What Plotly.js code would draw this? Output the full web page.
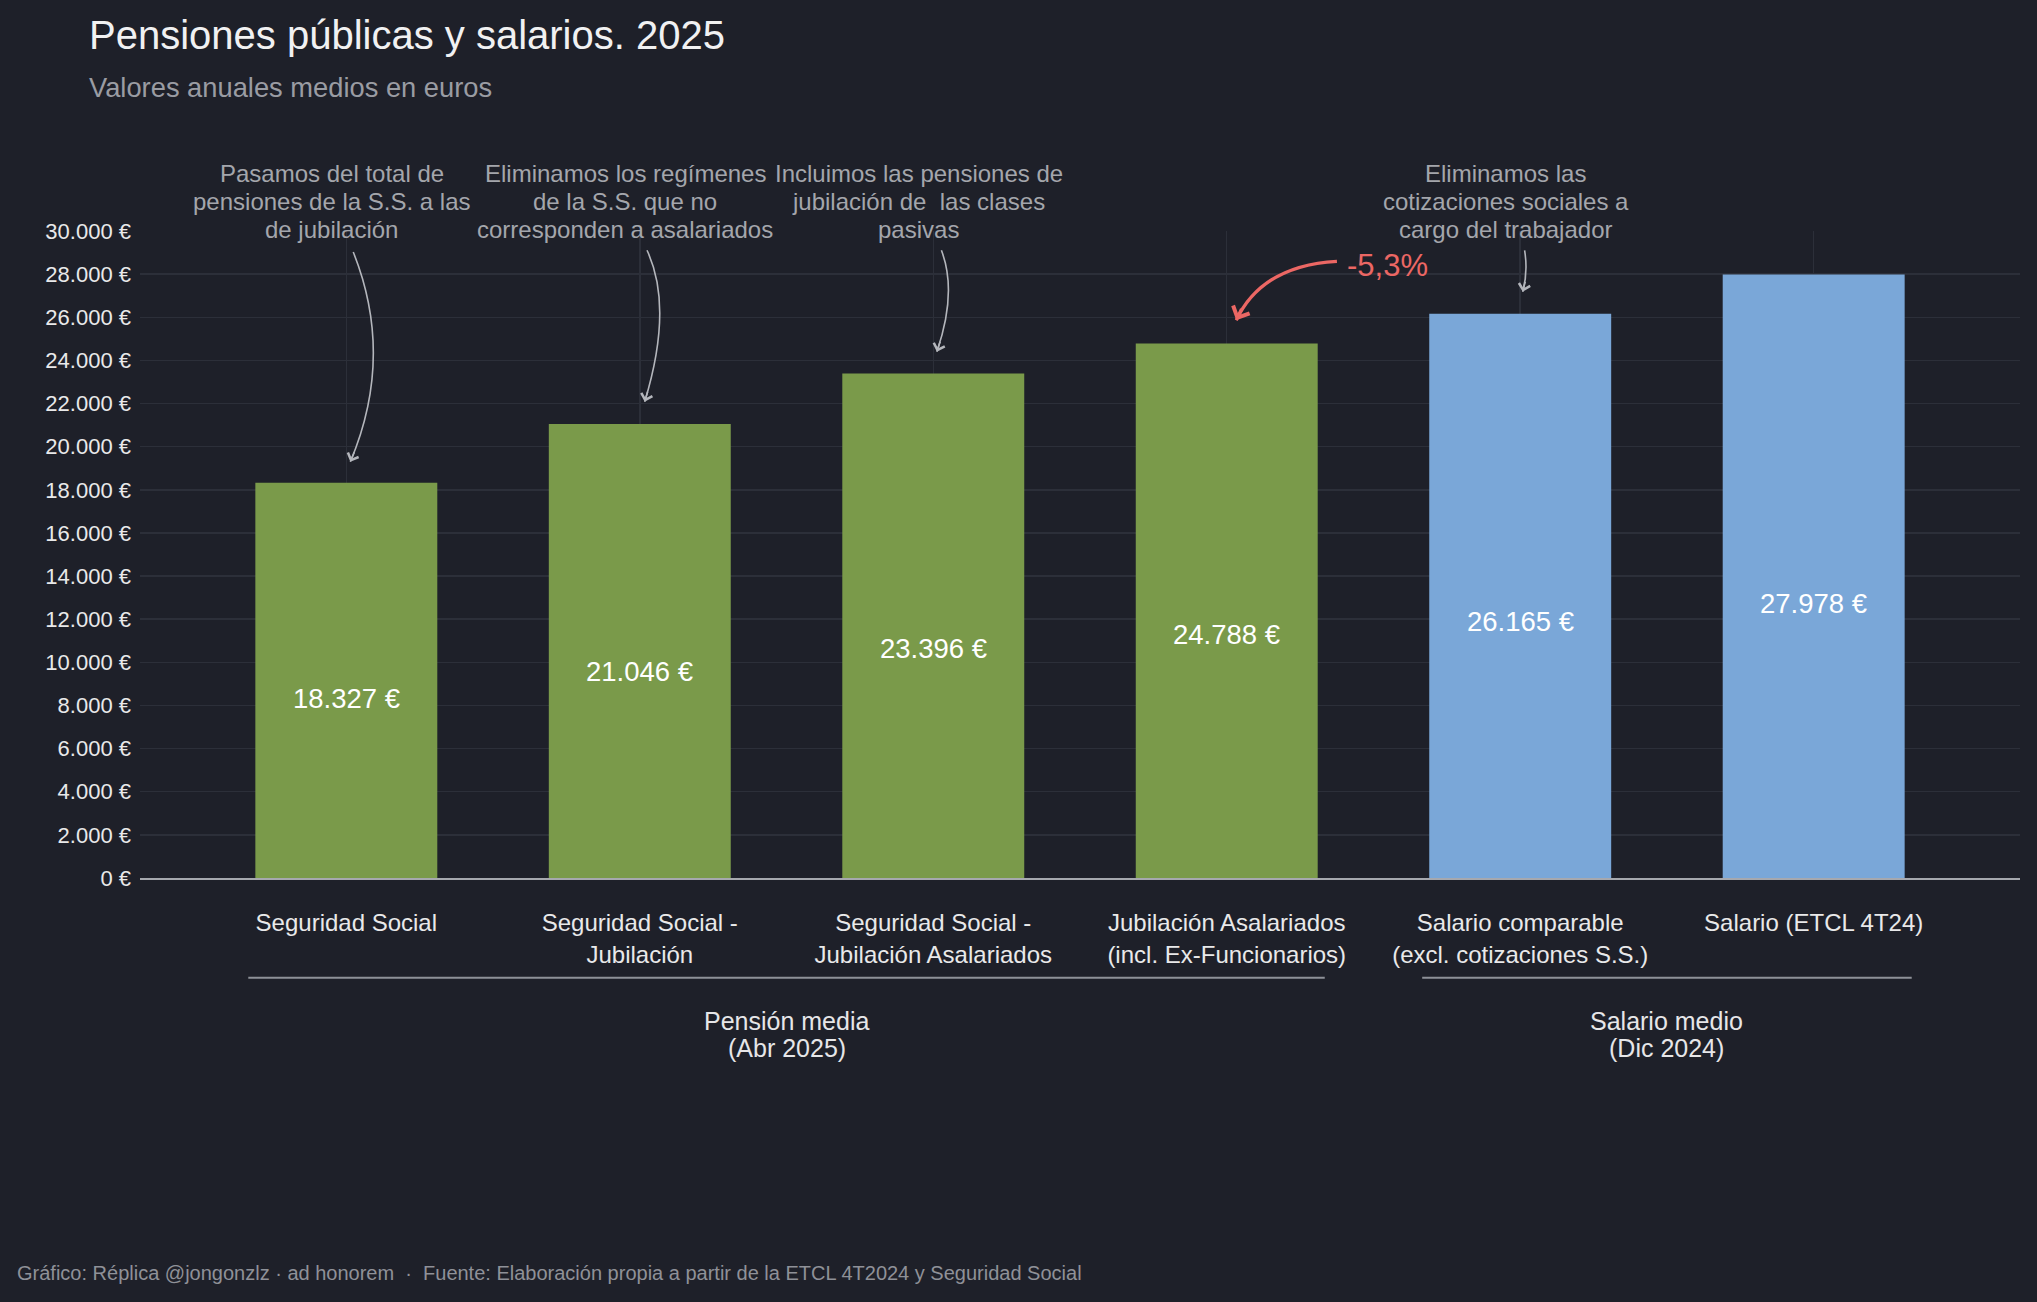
<!DOCTYPE html>
<html>
<head>
<meta charset="utf-8">
<script src="https://cdn.plot.ly/plotly-3.0.1.min.js"></script>
<style>
html,body{margin:0;padding:0;background:#1e2029;}
#chart{width:2037px;height:1302px;}
</style>
</head>
<body>
<div id="chart"></div>
<script>
// ---- data ----
const categories = [
  'Seguridad Social',
  'Seguridad Social -<br>Jubilación',
  'Seguridad Social -<br>Jubilación Asalariados',
  'Jubilación Asalariados<br>(incl. Ex-Funcionarios)',
  'Salario comparable<br>(excl. cotizaciones S.S.)',
  'Salario (ETCL 4T24)'
];
const values = [18327, 21046, 23396, 24788, 26165, 27978];
const groupOf = ['pension', 'pension', 'pension', 'pension', 'salario', 'salario'];
const groupNames = ['pension', 'salario'];
const groupLabels = ['Pensión media<br>(Abr 2025)', 'Salario medio<br>(Dic 2024)'];
const noteTexts = [
  'Pasamos del total de<br>pensiones de la S.S. a las<br>de jubilación',
  'Eliminamos los regímenes<br>de la S.S. que no<br>corresponden a asalariados',
  'Incluimos las pensiones de<br>jubilación de  las clases<br>pasivas',
  'Eliminamos las<br>cotizaciones sociales a<br>cargo del trabajador'
];
const changeLabel = '-5,3%';
const titleText = 'Pensiones públicas y salarios. 2025';
const subtitleText = 'Valores anuales medios en euros';
const footerText = 'Gráfico: Réplica @jongonzlz · ad honorem  ·  Fuente: Elaboración propia a partir de la ETCL 4T2024 y Seguridad Social';

// ---- styles ----
const FONT = 'Liberation Sans, Arial, Helvetica, sans-serif';
const BG = '#1e2029';
const GRID = '#2c2f39';
const groupColors = {pension: '#7a9a4a', salario: '#7aa7d8'};
const NOTE_COLOR = '#a4a6ac';
const ARROW_COLOR = '#b4b6bc';
const RED = '#ec6764';

function fmt(v) {
  return String(v).replace(/\B(?=(\d{3})+(?!\d))/g, '.') + ' €';
}

const trace = {
  type: 'bar',
  x: categories,
  y: values,
  marker: {color: groupOf.map(g => groupColors[g])},
  hovertemplate: '%{y:,.0f} €<extra></extra>'
};

const annotations = [];

// multi-line text helper with controlled line spacing
function addLines(text, base, lineGap) {
  const lines = text.split('<br>');
  const n = lines.length;
  lines.forEach((ln, k) => {
    annotations.push(Object.assign({}, base, {
      text: ln,
      yshift: -(k - (n - 1) / 2) * lineGap,
      showarrow: false
    }));
  });
}

// value labels inside bars
categories.forEach((c, i) => {
  annotations.push({
    x: c, y: values[i] * 0.455, xref: 'x', yref: 'y',
    text: fmt(values[i]), showarrow: false,
    font: {family: FONT, size: 27.5, color: '#ffffff'},
    xanchor: 'center', yanchor: 'middle'
  });
});

// note texts above bars (notes for categories 0,1,2,4)
const noteCats = [0, 1, 2, 4];
noteCats.forEach((ci, k) => {
  addLines(noteTexts[k], {
    x: ci - 0.05, y: 1.046, xref: 'x', yref: 'paper',
    font: {family: FONT, size: 24, color: NOTE_COLOR},
    align: 'center', xanchor: 'center', yanchor: 'middle'
  }, 28);
});

// curved arrow definitions (start, control, end) in category-index / value units
const arrows = [
  {p0: [0.0236, 29027], c: [0.1653, 24200], p1: [0.0137, 19300], ax: 4.6, ay: -11, color: ARROW_COLOR, w: 1.6, size: 1.4},
  {p0: [1.0246, 29106], c: [1.1153, 26477], p1: [1.0167, 22080], ax: 3.4, ay: -11.5, color: ARROW_COLOR, w: 1.6, size: 1.4},
  {p0: [2.0277, 29106], c: [2.0824, 27171], p1: [2.0123, 24400], ax: 3.8, ay: -11.4, color: ARROW_COLOR, w: 1.6, size: 1.4},
  {p0: [4.015, 29106], c: [4.027, 28097], p1: [4.0085, 27180], ax: 2.9, ay: -11.6, color: ARROW_COLOR, w: 1.6, size: 1.4},
  {p0: [3.3755, 28596], c: [3.12, 28400], p1: [3.0324, 25863], ax: 6, ay: -12.7, color: RED, w: 3.2, size: 1.1}
];

const shapes = [];
arrows.forEach(a => {
  shapes.push({
    type: 'path', xref: 'x', yref: 'y',
    path: `M ${a.p0[0]},${a.p0[1]} Q ${a.c[0]},${a.c[1]} ${a.p1[0]},${a.p1[1]}`,
    line: {color: a.color, width: a.w}
  });
  annotations.push({
    x: a.p1[0], y: a.p1[1], xref: 'x', yref: 'y',
    text: '', showarrow: true, ax: a.ax, ay: a.ay,
    arrowhead: 4, arrowsize: a.size, arrowwidth: a.w, arrowcolor: a.color, standoff: 0
  });
});

// -5,3% label
annotations.push({
  x: 3.548, y: 28420, xref: 'x', yref: 'y',
  text: changeLabel, showarrow: false,
  font: {family: FONT, size: 31, color: RED},
  xanchor: 'center', yanchor: 'middle'
});

// group brackets and labels
groupNames.forEach((g, k) => {
  const idx = groupOf.map((gg, i) => gg === g ? i : -1).filter(i => i >= 0);
  const first = Math.min(...idx), last = Math.max(...idx);
  shapes.push({
    type: 'line', xref: 'x', yref: 'paper',
    x0: first - 0.334, x1: last + 0.334, y0: -0.154, y1: -0.154,
    line: {color: '#8e9198', width: 2}
  });
  addLines(groupLabels[k], {
    x: (first + last) / 2, y: -0.2412, xref: 'x', yref: 'paper',
    font: {family: FONT, size: 25, color: '#e6e6e8'},
    align: 'center', xanchor: 'center', yanchor: 'middle'
  }, 27);
});

// title, subtitle, footer
annotations.push({
  x: -0.028, y: 1.3022, xref: 'paper', yref: 'paper',
  text: titleText, showarrow: false,
  font: {family: FONT, size: 40, color: '#f1f1f2'},
  xanchor: 'left', yanchor: 'middle'
});
annotations.push({
  x: -0.028, y: 1.2224, xref: 'paper', yref: 'paper',
  text: subtitleText, showarrow: false,
  font: {family: FONT, size: 27.3, color: '#9a9ca3'},
  xanchor: 'left', yanchor: 'middle'
});
annotations.push({
  x: -0.0665, y: -0.611, xref: 'paper', yref: 'paper',
  text: footerText, showarrow: false,
  font: {family: FONT, size: 20, color: '#8f9198'},
  xanchor: 'left', yanchor: 'middle'
});

const layout = {
  width: 2037, height: 1302,
  paper_bgcolor: BG, plot_bgcolor: BG,
  margin: {l: 140, r: 17, t: 231, b: 424},
  separators: ',.',
  showlegend: false,
  bargap: 0.38,
  font: {family: FONT, color: '#e6e6e8'},
  xaxis: {
    type: 'category',
    range: [-0.703, 5.703],
    showgrid: true, gridcolor: GRID, gridwidth: 1.5,
    showline: true, linecolor: '#a6a8ae', linewidth: 1.6,
    ticks: '', ticklabelstandoff: 23,
    tickfont: {family: FONT, size: 24, color: '#e9e9ea'},
    fixedrange: true
  },
  yaxis: {
    range: [0, 30000], tick0: 0, dtick: 2000,
    tickformat: ',.0f', ticksuffix: ' €',
    showgrid: true, gridcolor: GRID, gridwidth: 1.5,
    zeroline: false, showline: false,
    ticks: '', ticklabelstandoff: 8,
    tickfont: {family: FONT, size: 22, color: '#e9e9ea'},
    fixedrange: true
  },
  shapes: shapes,
  annotations: annotations
};

Plotly.newPlot('chart', [trace], layout, {displayModeBar: false, staticPlot: true});
</script>
</body>
</html>
